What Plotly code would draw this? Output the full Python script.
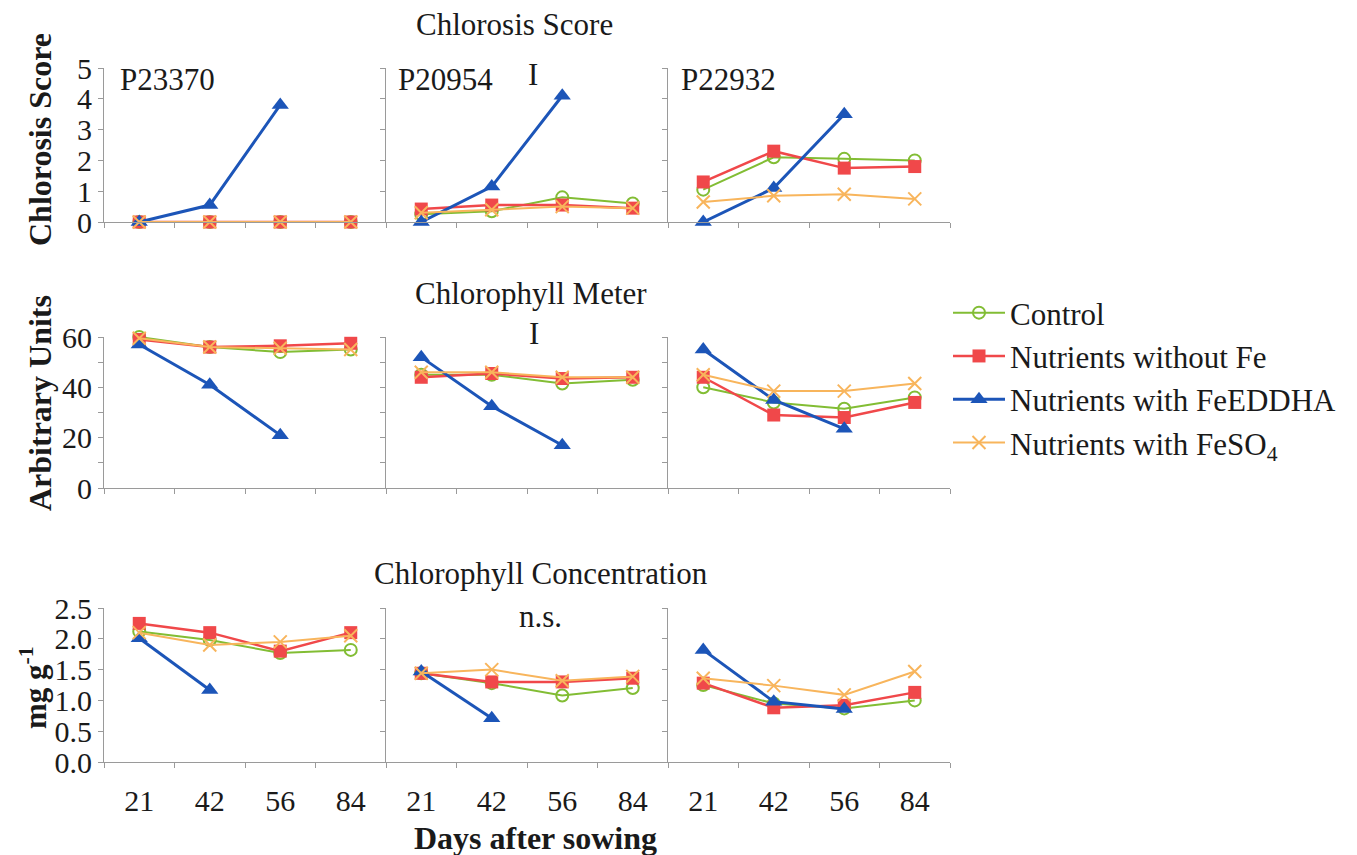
import plotly.graph_objects as go
from plotly.subplots import make_subplots

# ---- data -------------------------------------------------------------
days = ["21", "42", "56", "84"]
genotypes = ["P23370", "P20954", "P22932"]
treatments = [
    "Control",
    "Nutrients without Fe",
    "Nutrients with FeEDDHA",
    "Nutrients with FeSO<sub>4</sub>",
]

# Chlorosis score, one list per genotype (P23370, P20954, P22932)
chlorosis_control = [[0, 0, 0, 0], [0.25, 0.35, 0.8, 0.6], [1.05, 2.1, 2.05, 2.0]]
chlorosis_no_fe = [[0, 0, 0, 0], [0.42, 0.55, 0.55, 0.45], [1.3, 2.3, 1.75, 1.8]]
chlorosis_feeddha = [[0, 0.55, 3.8, None], [0, 1.15, 4.1, None], [0, 1.1, 3.5, None]]
chlorosis_feso4 = [[0, 0, 0, 0], [0.3, 0.4, 0.5, 0.45], [0.65, 0.85, 0.9, 0.75]]

# Chlorophyll meter readings (arbitrary units)
meter_control = [[60, 56, 54, 55], [45, 45, 41.5, 43], [40, 34, 31.5, 36]]
meter_no_fe = [[59, 56, 56.5, 57.5], [44, 45.5, 43.5, 44], [44, 29, 28, 34]]
meter_feeddha = [[57, 41, 21, None], [52, 32.5, 17, None], [55, 35, 23.5, None]]
meter_feso4 = [[59.5, 56, 55.5, 55], [46, 46, 44, 44], [45, 38.5, 38.5, 41.5]]

# Chlorophyll concentration (mg g-1)
conc_control = [[2.12, 1.98, 1.77, 1.82], [1.44, 1.28, 1.08, 1.2], [1.25, 0.95, 0.87, 1.0]]
conc_no_fe = [[2.25, 2.1, 1.8, 2.1], [1.44, 1.3, 1.3, 1.36], [1.28, 0.88, 0.92, 1.13]]
conc_feeddha = [[2.01, 1.17, None, None], [1.47, 0.71, None, None], [1.82, 0.98, 0.86, None]]
conc_feso4 = [[2.1, 1.9, 1.95, 2.05], [1.44, 1.5, 1.32, 1.39], [1.36, 1.24, 1.09, 1.47]]

# ---- styling ----------------------------------------------------------
FONT = "Liberation Serif"
INK = "#1a1a1a"
AXIS = "#9a9a9a"
W, H = 1357, 855
L, R, T, B = 104, 407, 68, 93
PW, PH = W - L - R, H - T - B

styles = [
    dict(color="#82bd34", symbol="circle-open", size=12, lw=2.0, mlw=2),
    dict(color="#f0484a", symbol="square", size=13, lw=2.5, mlw=0),
    dict(color="#1c55b8", symbol="triangle-up", size=15, lw=3.0, mlw=0),
    dict(color="#f8b55c", symbol="x-thin-open", size=13, lw=2.0, mlw=2),
]

rows = [
    dict(series=[chlorosis_control, chlorosis_no_fe, chlorosis_feeddha, chlorosis_feso4],
         rng=[0, 5], tickvals=[0, 1, 2, 3, 4, 5], ticktext=["0", "1", "2", "3", "4", "5"],
         minor=[], top=68, bottom=222),
    dict(series=[meter_control, meter_no_fe, meter_feeddha, meter_feso4],
         rng=[0, 60], tickvals=[0, 20, 40, 60], ticktext=["0", "20", "40", "60"],
         minor=[10, 30, 50], top=337, bottom=488),
    dict(series=[conc_control, conc_no_fe, conc_feeddha, conc_feso4],
         rng=[0, 2.5], tickvals=[0, 0.5, 1.0, 1.5, 2.0, 2.5],
         ticktext=["0.0", "0.5", "1.0", "1.5", "2.0", "2.5"],
         minor=[], top=608, bottom=762),
]


def px(x):
    return (x - L) / PW


def py(y):
    return (H - B - y) / PH


fig = make_subplots(rows=3, cols=3, horizontal_spacing=0, vertical_spacing=0.05)

for r, row in enumerate(rows):
    for c in range(3):
        for t, name in enumerate(treatments):
            st = styles[t]
            fig.add_trace(
                go.Scatter(
                    x=days,
                    y=row["series"][t][c],
                    mode="lines+markers",
                    name=name,
                    legendgroup=name,
                    showlegend=(r == 0 and c == 0),
                    cliponaxis=False,
                    line=dict(color=st["color"], width=st["lw"]),
                    marker=dict(color=st["color"], symbol=st["symbol"], size=st["size"],
                                line=dict(color=st["color"], width=st["mlw"])),
                ),
                row=r + 1, col=c + 1,
            )

for r, row in enumerate(rows):
    dom = [py(row["bottom"]), py(row["top"])]
    for c in range(3):
        n = r * 3 + c + 1
        suffix = "" if n == 1 else str(n)
        yax = dict(
            domain=dom, range=row["rng"], tickmode="array",
            tickvals=row["tickvals"], ticktext=row["ticktext"],
            showticklabels=(c == 0), showline=True, linecolor=AXIS, linewidth=1,
            ticks="outside", ticklen=5, tickcolor=AXIS, showgrid=False, zeroline=False,
            tickfont=dict(family=FONT, size=30, color=INK),
        )
        if row["minor"]:
            yax["minor"] = dict(tickmode="array", tickvals=row["minor"], ticks="outside",
                                ticklen=5, tickcolor=AXIS, showgrid=False)
        fig.layout["yaxis" + suffix].update(**yax)
        fig.layout["xaxis" + suffix].update(
            domain=[c / 3, (c + 1) / 3], type="category",
            categoryorder="array", categoryarray=days, range=[-0.5, 3.5],
            showline=True, linecolor=AXIS, linewidth=1, ticks="outside", ticklen=5,
            tickcolor=AXIS, tickson="boundaries", showgrid=False, zeroline=False,
            showticklabels=(r == 2), ticklabelstandoff=12,
            tickfont=dict(family=FONT, size=30, color=INK),
        )

annotations = []


def text(x, y, s, size=31, bold=False, angle=0, xanchor="center"):
    annotations.append(dict(
        x=px(x), y=py(y), xref="paper", yref="paper", text=("<b>%s</b>" % s) if bold else s,
        showarrow=False, textangle=angle, xanchor=xanchor, yanchor="middle",
        font=dict(family=FONT, size=size, color=INK),
    ))


# row titles
text(514, 25, "Chlorosis Score")
text(531, 293, "Chlorophyll Meter")
text(541, 573, "Chlorophyll Concentration")

# genotype labels
text(118, 80, genotypes[0], xanchor="left")
text(396, 80, genotypes[1], xanchor="left")
text(679, 80, genotypes[2], xanchor="left")

# significance marks
text(533, 74, "I")
text(534, 334, "I")
text(540, 616, "n.s.")

# axis titles
text(40, 140, "Chlorosis Score", size=32, bold=True, angle=-90)
text(40, 403, "Arbitrary Units", size=32, bold=True, angle=-90)
text(33, 688, "mg g<sup>-1</sup>", size=31, bold=True, angle=-90)
text(535, 838, "Days after sowing", size=32, bold=True)

fig.update_layout(
    width=W, height=H,
    margin=dict(l=L, r=R, t=T, b=B),
    paper_bgcolor="white", plot_bgcolor="white",
    font=dict(family=FONT, color=INK),
    annotations=annotations,
    legend=dict(
        x=px(948), y=py(286), xanchor="left", yanchor="top",
        font=dict(family=FONT, size=31, color=INK),
        bgcolor="rgba(0,0,0,0)", itemwidth=52, tracegroupgap=0,
    ),
)

fig.write_html("out.html")
